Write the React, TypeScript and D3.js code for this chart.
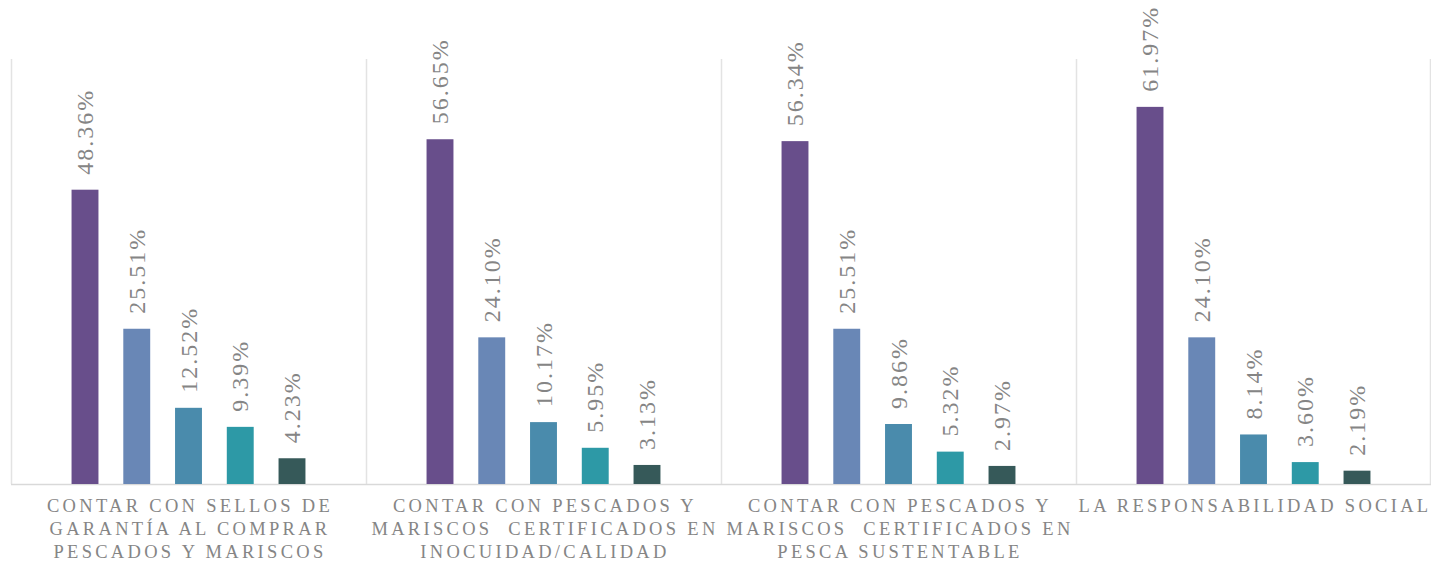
import React from "react";
import * as d3 from "d3";

const categories: string[][] = [
  ["CONTAR CON SELLOS DE", "GARANTÍA AL COMPRAR", "PESCADOS Y MARISCOS"],
  ["CONTAR CON PESCADOS Y", "MARISCOS  CERTIFICADOS EN", "INOCUIDAD/CALIDAD"],
  ["CONTAR CON PESCADOS Y", "MARISCOS  CERTIFICADOS EN", "PESCA SUSTENTABLE"],
  ["LA RESPONSABILIDAD SOCIAL"],
];
const seriesNames = ["s1", "s2", "s3", "s4", "s5"];
const values: number[][] = [
  [48.36, 25.51, 12.52, 9.39, 4.23],
  [56.65, 24.1, 10.17, 5.95, 3.13],
  [56.34, 25.51, 9.86, 5.32, 2.97],
  [61.97, 24.1, 8.14, 3.6, 2.19],
];
const colors = ["#684E8B", "#6987B6", "#4A8BAC", "#2D99A6", "#365959"];

const W = 1431;
const H = 561;

export default function App() {
  const left = 11;
  const right = 1431;
  const baseY = 484;
  const topY = 58;
  const x0 = d3
    .scaleBand<number>()
    .domain(d3.range(categories.length))
    .range([left, right])
    .padding(0);
  const gw = x0.bandwidth();
  const x1 = d3
    .scaleBand<string>()
    .domain(seriesNames)
    .range([0, gw])
    .paddingInner(0.48)
    .paddingOuter(1.17);
  const y = d3.scaleLinear().domain([0, 70]).range([baseY, topY]);
  const font = "'Liberation Serif', 'Times New Roman', serif";
  const grey = "#858585";

  return (
    <svg
      width={W}
      height={H}
      style={{ position: "absolute", left: 0, top: 0, background: "#fff" }}
    >
      {d3.range(categories.length + 1).map((i) => {
        const xx = i < categories.length ? x0(i)! : right - 1;
        return (
          <line
            key={"v" + i}
            x1={xx + 0.5}
            x2={xx + 0.5}
            y1={topY + 1}
            y2={baseY}
            stroke="#e3e3e3"
            strokeWidth={1.5}
          />
        );
      })}
      <line
        x1={left}
        x2={right}
        y1={baseY + 0.5}
        y2={baseY + 0.5}
        stroke="#d9d9d9"
        strokeWidth={1.5}
      />
      {values.map((row, gi) => (
        <g key={"g" + gi} transform={`translate(${x0(gi)},0)`}>
          {row.map((v, si) => {
            const bx = x1(seriesNames[si])!;
            const cx = bx + x1.bandwidth() / 2;
            return (
              <g key={si}>
                <rect
                  x={bx}
                  y={y(v)}
                  width={x1.bandwidth()}
                  height={baseY - y(v)}
                  fill={colors[si]}
                />
                <text
                  transform={`translate(${cx + 8},${y(v) - 15}) rotate(-90)`}
                  fontFamily={font}
                  fontSize={24}
                  letterSpacing={2}
                  fill={grey}
                  textAnchor="start"
                >
                  {v.toFixed(2) + "%"}
                </text>
              </g>
            );
          })}
          {categories[gi].map((line, li) => (
            <text
              key={"c" + li}
              x={gw / 2 + 1.5}
              y={baseY + 28 + li * 23}
              textAnchor="middle"
              fontFamily={font}
              fontSize={18.5}
              letterSpacing={3.3}
              fill={grey}
              style={{ whiteSpace: "pre" }}
            >
              {line}
            </text>
          ))}
        </g>
      ))}
    </svg>
  );
}
